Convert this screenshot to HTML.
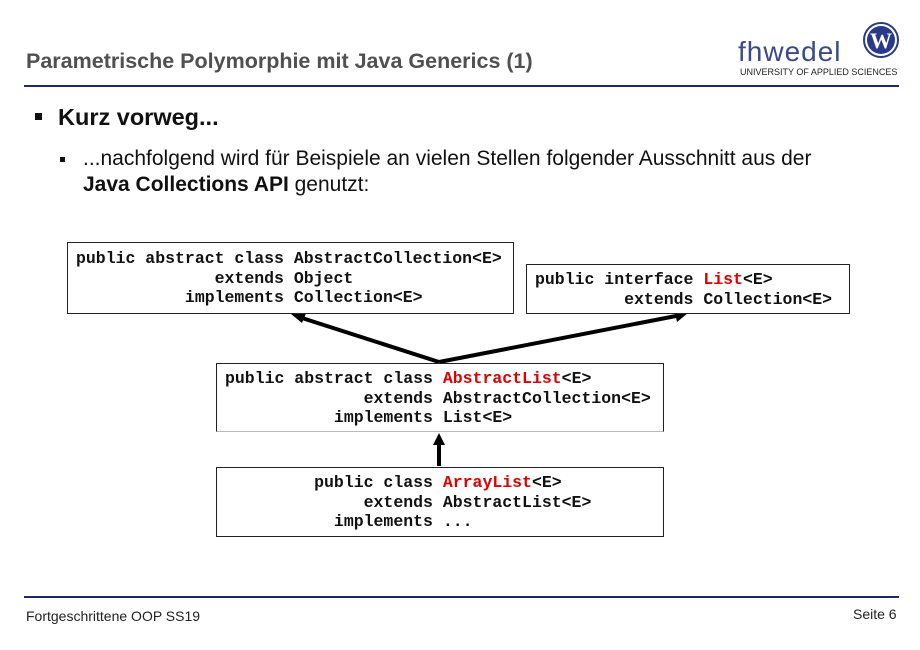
<!DOCTYPE html>
<html><head><meta charset="utf-8"><style>
body{margin:0;width:920px;height:650px;background:#fff;position:relative;overflow:hidden;font-family:"Liberation Sans",sans-serif}
.a{position:absolute;white-space:nowrap}
pre{margin:0;font-family:"Liberation Mono",monospace;font-weight:bold;font-size:16.5px;line-height:19.5px;color:#111}
.box{position:absolute;border:1px solid #222;background:#fff}
.r{color:#e00000}
</style></head><body>
<div class="a" style="left:26px;top:49px;font-size:21.5px;font-weight:bold;color:#505050">Parametrische Polymorphie mit Java Generics (1)</div>
<div class="a" style="left:24px;top:85px;width:875px;height:2px;background:#1a2a6c"></div>
<div class="a" style="left:738px;top:36px;font-size:28px;color:#3a4a8a;letter-spacing:1px">fhwedel</div>
<svg class="a" style="left:862px;top:21px" width="38" height="38"><circle cx="19" cy="19" r="17" fill="#fff" stroke="#2a3a8a" stroke-width="2"/><circle cx="19" cy="19" r="14" fill="#2a3a8a"/><text x="19" y="27" font-family="Liberation Serif" font-weight="bold" font-size="22" fill="#fff" text-anchor="middle">W</text></svg>
<div class="a" style="left:740px;top:67px;font-size:9px;color:#222">UNIVERSITY OF APPLIED SCIENCES</div>

<div class="a" style="left:35px;top:113px;width:7px;height:7px;background:#111"></div>
<div class="a" style="left:58px;top:104px;font-size:23.5px;font-weight:bold;color:#111">Kurz vorweg...</div>
<div class="a" style="left:60px;top:157px;width:5px;height:5px;background:#111"></div>
<div class="a" style="left:83px;top:146px;font-size:21px;color:#111;line-height:26px">...nachfolgend wird für Beispiele an vielen Stellen folgender Ausschnitt aus der<br><b>Java Collections API</b> genutzt:</div>

<svg class="a" style="left:0;top:0" width="920" height="650">
<g stroke="#000" stroke-width="4" fill="#000">
<line x1="439" y1="362" x2="302" y2="318"/>
<line x1="439" y1="362" x2="676" y2="316"/>
<line x1="439" y1="466" x2="439" y2="442"/>
</g>
<polygon points="291,314 307,311 302,323" fill="#000"/>
<polygon points="688,313 674,308 677,322" fill="#000"/>
<polygon points="439,433 433,445 445,445" fill="#000"/>
</svg>

<div class="box" style="left:67px;top:242px;width:445px;height:70px"><pre style="margin:6px 0 0 8px">public abstract class AbstractCollection&lt;E&gt;
              extends Object
           implements Collection&lt;E&gt;</pre></div>
<div class="box" style="left:526px;top:264px;width:322px;height:48px"><pre style="margin:5px 0 0 8px">public interface <span class="r">List</span>&lt;E&gt;
         extends Collection&lt;E&gt;</pre></div>
<div class="box" style="left:216px;top:363px;width:446px;height:67px;border-bottom-color:#bbb"><pre style="margin:5px 0 0 8px">public abstract class <span class="r">AbstractList</span>&lt;E&gt;
              extends AbstractCollection&lt;E&gt;
           implements List&lt;E&gt;</pre></div>
<div class="box" style="left:216px;top:467px;width:446px;height:68px"><pre style="margin:5px 0 0 8px">         public class <span class="r">ArrayList</span>&lt;E&gt;
              extends AbstractList&lt;E&gt;
           implements ...</pre></div>

<div class="a" style="left:24px;top:596px;width:875px;height:2px;background:#1a2a6c"></div>
<div class="a" style="left:26px;top:608px;font-size:14px;color:#222">Fortgeschrittene OOP SS19</div>
<div class="a" style="left:853px;top:606px;font-size:14px;color:#222">Seite 6</div>
</body></html>
